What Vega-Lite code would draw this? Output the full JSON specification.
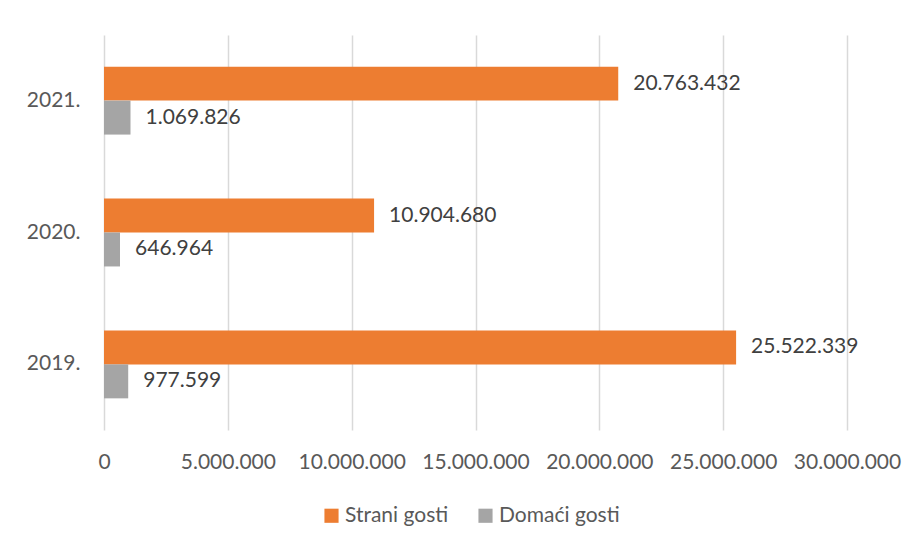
{
  "$schema": "https://vega.github.io/schema/vega-lite/v6.json",
  "autosize": {"type": "none"},
  "padding": {"left": 104, "top": 35, "right": 71, "bottom": 118},
  "width": 743,
  "height": 395,
  "background": "white",
  "config": {
    "locale": {"number": {"decimal": ",", "thousands": ".", "grouping": [3], "currency": ["", ""]}},
    "view": {"stroke": null},
    "font": "Lato"
  },
  "data": {
    "values": [
      {"year": "2021.", "series": "Strani gosti", "value": 20763432},
      {"year": "2021.", "series": "Domaći gosti", "value": 1069826},
      {"year": "2020.", "series": "Strani gosti", "value": 10904680},
      {"year": "2020.", "series": "Domaći gosti", "value": 646964},
      {"year": "2019.", "series": "Strani gosti", "value": 25522339},
      {"year": "2019.", "series": "Domaći gosti", "value": 977599}
    ]
  },
  "encoding": {
    "y": {
      "field": "year", "type": "nominal", "sort": ["2021.", "2020.", "2019."],
      "scale": {"paddingInner": 0.485, "paddingOuter": 0.24},
      "axis": {"title": null, "domain": false, "ticks": false, "labelPadding": 24, "labelFontSize": 21, "labelColor": "#595959", "labelFont": "Lato"}
    },
    "yOffset": {"field": "series", "type": "nominal", "sort": ["Strani gosti", "Domaći gosti"]},
    "x": {
      "field": "value", "type": "quantitative",
      "scale": {"domain": [0, 30000000], "nice": false},
      "axis": {"title": null, "domain": false, "ticks": false, "values": [0, 5000000, 10000000, 15000000, 20000000, 25000000, 30000000], "labelExpr": "format(datum.value, ',')", "labelPadding": 21, "labelFontSize": 21, "labelColor": "#595959", "labelFont": "Lato", "gridColor": "#d9d9d9", "gridWidth": 1.5, "labelFlush": false, "labelOverlap": false}
    }
  },
  "layer": [
    {
      "mark": {"type": "bar"},
      "encoding": {
        "color": {
          "field": "series", "type": "nominal",
          "scale": {"domain": ["Strani gosti", "Domaći gosti"], "range": ["#ED7D31", "#A5A5A5"]},
          "legend": {"title": null, "orient": "none", "legendX": 217, "legendY": 470, "direction": "horizontal", "symbolType": "square", "symbolSize": 200, "symbolStrokeWidth": 0, "labelFontSize": 21, "labelColor": "#595959", "labelFont": "Lato", "columnPadding": 26, "labelOffset": 3}
        }
      }
    },
    {
      "mark": {"type": "text", "align": "left", "baseline": "middle", "dx": 15, "fontSize": 21, "color": "#404040", "font": "Lato"},
      "encoding": {
        "text": {"field": "value", "type": "quantitative", "format": ","}
      }
    }
  ]
}
